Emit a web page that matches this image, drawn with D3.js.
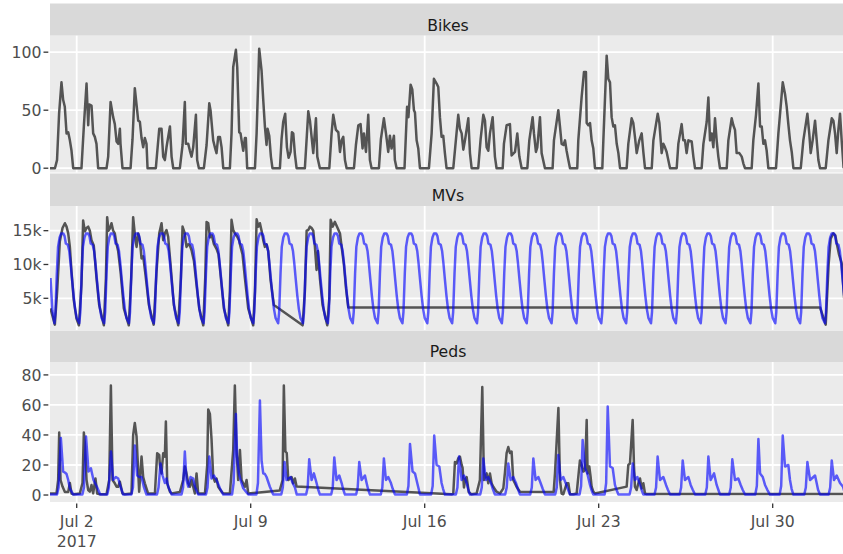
<!DOCTYPE html>
<html>
<head>
<meta charset="utf-8">
<script src="https://cdn.jsdelivr.net/npm/d3@7"></script>
<style>
  html, body { margin: 0; padding: 0; background: #ffffff; }
  svg { display: block; font-family: "DejaVu Sans", Verdana, sans-serif; }
</style>
</head>
<body>
<svg id="chart" width="843" height="554"></svg>
<script>
// ---------------------------------------------------------------
// Hourly counts at one intersection, July 2017.
// Each row: [day of July (32 = Aug 1), hour, value, hour, value, ...]
// Straight runs between rows are periods without sensor data.
// ---------------------------------------------------------------

const facetNames = ["Bikes", "MVs", "Peds"];
const dateTicks = ["2017-07-02", "2017-07-09", "2017-07-16", "2017-07-23", "2017-07-30"];
const bikeTicks = [0, 50, 100];
const mvTicks = [5, 10, 15];          // thousands of vehicles
const pedTicks = [0, 20, 40, 60, 80];

// Bicycles counted
const bikesCounted = [
  [1, -2,0, 3,0, 5,7, 7,47, 9.3,74, 10.9,59, 12.5,53, 14.2,30, 15.8,31, 17.4,24, 19,15, 20.6,0],
  [2, 4.6,0, 6.9,36, 9.5,73, 11.1,37, 12,55, 14.3,54, 15.9,30, 17.5,27, 19.1,21, 20.7,0],
  [3, 4.8,0, 6.4,10, 8.7,57, 11.2,44, 12.8,38, 14.5,23, 16.1,21, 17.7,34, 18.3,21, 20.2,0],
  [4, 4,0, 5.9,25, 8.1,69, 11.4,41, 13,40, 14.6,26, 16.2,18, 17.8,26, 19.4,21, 20.4,0],
  [5, 4.4,0, 7.7,34, 9.9,34, 11.5,10, 13.1,7, 14.7,18, 18,36, 19.6,10, 21.2,0],
  [6, 3.6,0, 6.2,20, 8.4,57, 9.4,21, 11.7,21, 13.3,15, 14.9,10, 16.5,18, 19.1,46, 20.3,7, 22,0],
  [7, 2.8,0, 5.4,20, 8,56, 9.2,50, 11.8,24, 13.4,18, 15,13, 16.6,27, 18.3,27, 19.9,18, 21.5,0],
  [8, 3.9,0, 5.5,30, 7.1,87, 9.7,102, 11,87, 12.9,31, 14.2,30, 15.2,24, 16.8,15, 18.4,26, 19.3,26, 20.6,0],
  [9, 4.1,0, 5.7,30, 8.2,103, 10.5,84, 12.1,59, 13.7,36, 15.3,20, 16.3,34, 17.9,28, 19.5,10, 21,0],
  [10, 4.2,0, 5.8,25, 7.4,40, 9.3,47, 11,18, 12.6,9, 14.5,14, 15.8,31, 17.1,30, 18.7,12, 20.3,0],
  [11, 4.3,0, 6,25, 7.6,49, 9.2,41, 12.4,13, 15,43, 16.3,10, 18.8,0],
  [12, 3.9,0, 6.1,30, 7.7,46, 10.3,33, 12.6,31, 14.2,14, 15.8,24, 17.4,27, 19,7, 20.6,0],
  [13, 3.7,0, 5.6,20, 7.9,37, 10.1,38, 12,17, 13.3,30, 15.3,14, 17.5,46, 19.1,7, 20.7,0],
  [14, 3.8,0, 5.7,25, 8.6,43, 10.6,30, 12.8,14, 14.4,28, 16,17, 18.3,28, 19.2,7, 20.9,0],
  [15, 4.5,0, 7,53, 8.3,44, 10.4,72, 12,68, 13.6,50, 14.6,48, 16.2,24, 17.8,17, 19.4,0],
  [16, 4.1,0, 6.7,30, 8.9,77, 11.5,73, 13.1,70, 14.7,44, 16.3,27, 17.9,28, 19.5,13, 21.1,0],
  [17, 3.6,0, 6.2,25, 8.4,46, 10,34, 11.7,30, 13.3,16, 14.9,24, 18.1,43, 19.7,13, 21.3,0],
  [18, 3.7,0, 6,25, 8.6,46, 10.2,41, 11.8,18, 13.4,15, 15,30, 17.6,44, 19.8,10, 21.4,0],
  [19, 3.3,0, 4.5,21, 7.1,37, 10.3,38, 11.9,11, 15.2,14, 17.4,30, 19.4,10, 21.6,0],
  [20, 3.1,0, 5,24, 8.2,44, 9.5,30, 11.4,14, 12.7,18, 15.3,44, 16.9,13, 20.1,0],
  [21, 3.5,0, 4.8,24, 9,50, 10.6,36, 12.2,21, 14,20, 15.5,24, 17,15, 18.7,7, 20.3,0],
  [22, 3.3,0, 4.3,24, 7.5,61, 9.8,83, 11.7,83, 12.4,39, 14,37, 15.6,39, 17.2,24, 18.8,17, 20.4,0],
  [23, 3.5,0, 4.5,24, 7.7,97, 9.3,77, 10.9,74, 12.5,44, 14.1,36, 15.7,37, 17.4,21, 19,13, 20.6,0],
  [24, 3,0, 4.6,21, 7.8,43, 9.4,39, 11,27, 12.7,13, 15.2,24, 17.5,30, 19.1,14, 20.7,0],
  [25, 3.2,0, 4.8,24, 9,47, 10.6,39, 12.8,13, 14.4,21, 16,18, 17.6,14, 19.2,7, 20.9,0],
  [26, 3.3,0, 4.9,21, 8.1,38, 9.7,24, 11.3,24, 12.9,13, 14.6,24, 17.8,23, 19.4,10, 21,0],
  [27, 3.4,0, 5.1,21, 8.3,40, 9.9,61, 11.5,24, 13.1,30, 14.7,18, 16.3,43, 17.9,24, 19.5,10, 21.1,0],
  [28, 3.6,0, 5.2,24, 8.4,43, 10,37, 11.6,33, 13.2,13, 15.8,13, 18.1,10, 19.7,4, 21.3,0],
  [29, 3.7,0, 5.3,24, 7.9,46, 10.2,73, 11.8,36, 13.4,36, 15,21, 16.6,24, 18.2,15, 19.8,0],
  [30, 3.2,0, 5.5,30, 9.7,74, 11.9,64, 13.5,53, 15.1,38, 16.7,24, 18.4,14, 20,0],
  [31, 3.1,0, 5.6,24, 9.5,47, 11.4,29, 12.7,13, 14.6,24, 16.9,41, 18.5,24, 20.1,7, 21.7,0],
  [32, 3.2,0, 5.8,24, 9,43, 10.6,41, 12.2,30, 13.8,13, 15.4,33, 17,47, 18.6,24, 20.5,0]
];

// Motor vehicles counted (thousands)
const mvsCounted = [
  [1, -1.3,3.5, 2.9,1.1, 5.2,6.2, 7.7,13.4, 10.3,15.4, 12.6,16.1, 14.2,15.6, 15.8,14.6, 17.4,12.6, 19,8.9, 21.2,4.7, 23.8,2.0],
  [2, 2.1,1.0, 4.6,7, 6.2,16.5, 7.9,14.9, 9.5,15.4, 11.1,15.6, 12.7,15.0, 14.3,13.6, 16.5,12.8, 19.1,8, 21.7,4],
  [3, 2.2,1.0, 4.2,8, 5.4,17.0, 6.7,15.0, 8,15.3, 9.6,16.1, 11.2,15.0, 12.8,14.6, 14.5,13, 16,12, 18.3,9, 21.5,3.5],
  [4, 2.3,1.0, 4.6,8, 6.5,17.0, 8.1,14.5, 9.8,12.6, 11.4,14.6, 13,13.6, 14.6,10.9, 16.2,11.2, 18.4,8.5, 21.7,4],
  [5, 2.3,1.1, 5.1,9, 7.7,14.6, 9.9,16.1, 11.5,13.6, 13.1,14.6, 14.7,15.1, 16.3,14.1, 18.6,10, 21.8,4],
  [6, 2,1.0, 4.6,8, 6.2,15.6, 8.4,14.6, 10,12.6, 11.7,13.0, 13.3,12.8, 14.9,12.1, 17.2,10.5, 19.7,7, 22.3,3.5],
  [7, 2.2,1.0, 4.1,8, 5.4,16.3, 7,16.1, 8.6,14, 10.5,14.3, 12.5,13, 15,12.3, 16.9,11.5, 18.9,8.5, 22.1,3.5],
  [8, 2.3,1.0, 3.9,6, 5.5,16.6, 7.1,15.1, 8.7,14.6, 11,14.1, 12.9,13.5, 14.2,12.6, 16.1,11.5, 18.4,8, 21.6,3.5],
  [9, 2.4,1.0, 4.1,6, 5.7,16.7, 7.3,15.6, 8.9,16.1, 10.5,15, 12.1,13.6, 13.7,12.6, 15.3,13, 16.9,12, 19.2,7.7, 22.4,4.0],
  [11, 2.1,1.0, 4.3,6, 6,15.0, 7.6,15.1, 9.2,15.6, 10.8,15.4, 12.4,15.0, 14,12.6, 15.6,9.2, 16.9,12, 18.8,8, 21.4,4],
  [12, 1.9,1.0, 3.9,5, 5.2,16.6, 7.1,15.6, 9.3,16.3, 11.6,15.5, 14.2,14.6, 15.8,12.6, 18,10, 20,6.5, 22.2,3.65],
  [31, 21.7,3.65],
  [32, 3.2,1.1, 6,10, 8,13.8, 10.5,14.6, 12.5,14.3, 14,13, 16,11.5, 18.6,10.2, 21,5]
];

// Motor vehicles expected by the model (thousands)
const mvsModelled = [
  [1, -1.3,8.0, 0.5,3.2, 2.5,1.3, 3.5,3, 4.8,8.7, 6,12.6, 7.5,14, 9,14.6, 11,14.6, 12.3,14.2, 13.5,13.1, 15.5,12.9, 16.8,12, 18,10.3, 19.5,7.8, 21,5.4, 22.5,3.4],
  [2, 0,2.1, 2.5,1.3, 3.5,3, 4.8,8.7, 6,12.6, 7.5,14, 9,14.6, 11,14.6, 12.3,14.2, 13.5,13.1, 15.5,12.9, 16.8,12, 18,10.3, 19.5,7.8, 21,5.4, 22.5,3.4],
  [3, 0,2.1, 2.5,1.3, 3.5,3, 4.8,8.7, 6,12.6, 7.5,14, 9,14.6, 11,14.6, 12.3,14.2, 13.5,13.1, 15.5,12.9, 16.8,12, 18,10.3, 19.5,7.8, 21,5.4, 22.5,3.4],
  [4, 0,2.1, 2.5,1.3, 3.5,3, 4.8,8.7, 6,12.6, 7.5,14, 9,14.6, 11,14.6, 12.3,14.2, 13.5,13.1, 15.5,12.9, 16.8,12, 18,10.3, 19.5,7.8, 21,5.4, 22.5,3.4],
  [5, 0,2.1, 2.5,1.3, 3.5,3, 4.8,8.7, 6,12.6, 7.5,14, 9,14.6, 11,14.6, 12.3,14.2, 13.5,13.1, 15.5,12.9, 16.8,12, 18,10.3, 19.5,7.8, 21,5.4, 22.5,3.4],
  [6, 0,2.1, 2.5,1.3, 3.5,3, 4.8,8.7, 6,12.6, 7.5,14, 9,14.6, 11,14.6, 12.3,14.2, 13.5,13.1, 15.5,12.9, 16.8,12, 18,10.3, 19.5,7.8, 21,5.4, 22.5,3.4],
  [7, 0,2.1, 2.5,1.3, 3.5,3, 4.8,8.7, 6,12.6, 7.5,14, 9,14.6, 11,14.6, 12.3,14.2, 13.5,13.1, 15.5,12.9, 16.8,12, 18,10.3, 19.5,7.8, 21,5.4, 22.5,3.4],
  [8, 0,2.1, 2.5,1.3, 3.5,3, 4.8,8.7, 6,12.6, 7.5,14, 9,14.6, 11,14.6, 12.3,14.2, 13.5,13.1, 15.5,12.9, 16.8,12, 18,10.3, 19.5,7.8, 21,5.4, 22.5,3.4],
  [9, 0,2.1, 2.5,1.3, 3.5,3, 4.8,8.7, 6,12.6, 7.5,14, 9,14.6, 11,14.6, 12.3,14.2, 13.5,13.1, 15.5,12.9, 16.8,12, 18,10.3, 19.5,7.8, 21,5.4, 22.5,3.4],
  [10, 0,2.1, 2.5,1.3, 3.5,3, 4.8,8.7, 6,12.6, 7.5,14, 9,14.6, 11,14.6, 12.3,14.2, 13.5,13.1, 15.5,12.9, 16.8,12, 18,10.3, 19.5,7.8, 21,5.4, 22.5,3.4],
  [11, 0,2.1, 2.5,1.3, 3.5,3, 4.8,8.7, 6,12.6, 7.5,14, 9,14.6, 11,14.6, 12.3,14.2, 13.5,13.1, 15.5,12.9, 16.8,12, 18,10.3, 19.5,7.8, 21,5.4, 22.5,3.4],
  [12, 0,2.1, 2.5,1.3, 3.5,3, 4.8,8.7, 6,12.6, 7.5,14, 9,14.6, 11,14.6, 12.3,14.2, 13.5,13.1, 15.5,12.9, 16.8,12, 18,10.3, 19.5,7.8, 21,5.4, 22.5,3.4],
  [13, 0,2.1, 2.5,1.3, 3.5,3, 4.8,8.7, 6,12.6, 7.5,14, 9,14.6, 11,14.6, 12.3,14.2, 13.5,13.1, 15.5,12.9, 16.8,12, 18,10.3, 19.5,7.8, 21,5.4, 22.5,3.4],
  [14, 0,2.1, 2.5,1.3, 3.5,3, 4.8,8.7, 6,12.6, 7.5,14, 9,14.6, 11,14.6, 12.3,14.2, 13.5,13.1, 15.5,12.9, 16.8,12, 18,10.3, 19.5,7.8, 21,5.4, 22.5,3.4],
  [15, 0,2.1, 2.5,1.3, 3.5,3, 4.8,8.7, 6,12.6, 7.5,14, 9,14.6, 11,14.6, 12.3,14.2, 13.5,13.1, 15.5,12.9, 16.8,12, 18,10.3, 19.5,7.8, 21,5.4, 22.5,3.4],
  [16, 0,2.1, 2.5,1.3, 3.5,3, 4.8,8.7, 6,12.6, 7.5,14, 9,14.6, 11,14.6, 12.3,14.2, 13.5,13.1, 15.5,12.9, 16.8,12, 18,10.3, 19.5,7.8, 21,5.4, 22.5,3.4],
  [17, 0,2.1, 2.5,1.3, 3.5,3, 4.8,8.7, 6,12.6, 7.5,14, 9,14.6, 11,14.6, 12.3,14.2, 13.5,13.1, 15.5,12.9, 16.8,12, 18,10.3, 19.5,7.8, 21,5.4, 22.5,3.4],
  [18, 0,2.1, 2.5,1.3, 3.5,3, 4.8,8.7, 6,12.6, 7.5,14, 9,14.6, 11,14.6, 12.3,14.2, 13.5,13.1, 15.5,12.9, 16.8,12, 18,10.3, 19.5,7.8, 21,5.4, 22.5,3.4],
  [19, 0,2.1, 2.5,1.3, 3.5,3, 4.8,8.7, 6,12.6, 7.5,14, 9,14.6, 11,14.6, 12.3,14.2, 13.5,13.1, 15.5,12.9, 16.8,12, 18,10.3, 19.5,7.8, 21,5.4, 22.5,3.4],
  [20, 0,2.1, 2.5,1.3, 3.5,3, 4.8,8.7, 6,12.6, 7.5,14, 9,14.6, 11,14.6, 12.3,14.2, 13.5,13.1, 15.5,12.9, 16.8,12, 18,10.3, 19.5,7.8, 21,5.4, 22.5,3.4],
  [21, 0,2.1, 2.5,1.3, 3.5,3, 4.8,8.7, 6,12.6, 7.5,14, 9,14.6, 11,14.6, 12.3,14.2, 13.5,13.1, 15.5,12.9, 16.8,12, 18,10.3, 19.5,7.8, 21,5.4, 22.5,3.4],
  [22, 0,2.1, 2.5,1.3, 3.5,3, 4.8,8.7, 6,12.6, 7.5,14, 9,14.6, 11,14.6, 12.3,14.2, 13.5,13.1, 15.5,12.9, 16.8,12, 18,10.3, 19.5,7.8, 21,5.4, 22.5,3.4],
  [23, 0,2.1, 2.5,1.3, 3.5,3, 4.8,8.7, 6,12.6, 7.5,14, 9,14.6, 11,14.6, 12.3,14.2, 13.5,13.1, 15.5,12.9, 16.8,12, 18,10.3, 19.5,7.8, 21,5.4, 22.5,3.4],
  [24, 0,2.1, 2.5,1.3, 3.5,3, 4.8,8.7, 6,12.6, 7.5,14, 9,14.6, 11,14.6, 12.3,14.2, 13.5,13.1, 15.5,12.9, 16.8,12, 18,10.3, 19.5,7.8, 21,5.4, 22.5,3.4],
  [25, 0,2.1, 2.5,1.3, 3.5,3, 4.8,8.7, 6,12.6, 7.5,14, 9,14.6, 11,14.6, 12.3,14.2, 13.5,13.1, 15.5,12.9, 16.8,12, 18,10.3, 19.5,7.8, 21,5.4, 22.5,3.4],
  [26, 0,2.1, 2.5,1.3, 3.5,3, 4.8,8.7, 6,12.6, 7.5,14, 9,14.6, 11,14.6, 12.3,14.2, 13.5,13.1, 15.5,12.9, 16.8,12, 18,10.3, 19.5,7.8, 21,5.4, 22.5,3.4],
  [27, 0,2.1, 2.5,1.3, 3.5,3, 4.8,8.7, 6,12.6, 7.5,14, 9,14.6, 11,14.6, 12.3,14.2, 13.5,13.1, 15.5,12.9, 16.8,12, 18,10.3, 19.5,7.8, 21,5.4, 22.5,3.4],
  [28, 0,2.1, 2.5,1.3, 3.5,3, 4.8,8.7, 6,12.6, 7.5,14, 9,14.6, 11,14.6, 12.3,14.2, 13.5,13.1, 15.5,12.9, 16.8,12, 18,10.3, 19.5,7.8, 21,5.4, 22.5,3.4],
  [29, 0,2.1, 2.5,1.3, 3.5,3, 4.8,8.7, 6,12.6, 7.5,14, 9,14.6, 11,14.6, 12.3,14.2, 13.5,13.1, 15.5,12.9, 16.8,12, 18,10.3, 19.5,7.8, 21,5.4, 22.5,3.4],
  [30, 0,2.1, 2.5,1.3, 3.5,3, 4.8,8.7, 6,12.6, 7.5,14, 9,14.6, 11,14.6, 12.3,14.2, 13.5,13.1, 15.5,12.9, 16.8,12, 18,10.3, 19.5,7.8, 21,5.4, 22.5,3.4],
  [31, 0,2.1, 2.5,1.3, 3.5,3, 4.8,8.7, 6,12.6, 7.5,14, 9,14.6, 11,14.6, 12.3,14.2, 13.5,13.1, 15.5,12.9, 16.8,12, 18,10.3, 19.5,7.8, 21,5.4, 22.5,3.4],
  [32, 0,2.1, 2.5,1.3, 3.5,3, 4.8,8.7, 6,12.6, 7.5,14, 9,14.6, 11,14.6, 12.3,14.2, 13.5,13.1, 15.5,12.9, 16.8,12, 18,10.3, 19.5,7.8, 21,5.4, 22.5,3.4],
  [33, 0,2.1, 2.5,1.3]
];

// Pedestrians counted
const pedsCounted = [
  [1, -2,1, 4.5,1, 6.1,10, 7.1,41.6, 8.4,10, 10.3,5.6, 12.6,2, 15.8,2, 17.4,8, 19,1, 21.2,0.5],
  [2, 3,1, 5.6,8, 6.9,41.6, 7.9,34, 9.5,10, 11.1,3.3, 12.7,2.2, 14.3,6.7, 15.9,1.1, 18.1,11, 19.8,1, 22.3,0.5],
  [3, 4.8,0.5, 7.4,10, 9,73, 10.6,10, 12.8,7.8, 14.5,5.5, 16,5.5, 17.7,8.9, 20.2,1, 22.5,0.5],
  [4, 4.9,1, 6.5,40, 8.1,48, 9.8,39, 10.7,25.6, 12.3,2.2, 14.6,25.6, 16.2,12, 17.8,7.8, 21,1],
  [5, 3.5,1, 5.7,27.8, 7.7,26.7, 8.3,20, 9.9,14.4, 11.5,27.8, 13.1,25.6, 14.1,49, 15.4,7.8, 18,2.2, 19.6,1],
  [6, 3.6,2, 6.8,10, 8.4,19, 10,14.4, 11.7,7.8, 13.3,5.5, 14.9,10, 16.5,5.5, 18.1,1, 19.7,14.4, 21.3,1],
  [7, 3.8,1, 6,20, 7,57, 8.6,54, 10.2,37, 11.8,12, 13.4,8.9, 15,11, 16.6,5.5, 19.9,2.2, 21.5,1],
  [8, 3.9,1, 7.1,30, 8.7,73, 10.3,30, 11.9,10, 13.6,30, 15.2,10, 18.4,5.5, 20,10, 21.6,1],
  [10, 4,3, 6.8,10, 8,73, 9.5,29, 10.8,28, 12.3,10, 15.5,12, 17.1,7.8, 18.7,11, 20.3,5.6],
  [17, 2,0.5, 3.6,1, 5.2,22, 6.8,21, 8.4,24.4, 10,25.6, 11.7,20, 12.6,18, 13.9,5, 15,10, 16.5,12, 18.5,2, 21,0.5],
  [18, 2.1,1, 5.3,10, 7.6,72, 9.2,10, 11.8,14.4, 13.4,7.8, 15,14.4, 16.6,7.8, 18.2,5.5, 21.4,2.2],
  [19, 0.7,1, 3.9,4.4, 5.5,15, 7.1,28, 8.7,32, 10.3,28, 11.9,29, 13.5,10, 15.1,7.8, 16.7,5.5, 20,2.2],
  [21, 4.5,2, 5.8,14.4, 9.1,58, 10.6,10, 12.2,1, 13.8,0.5, 17.1,7.8, 18.7,7.8, 20.3,0.5, 23.5,0.5],
  [22, 2.7,1, 5.9,23, 7.5,20, 9.2,15.6, 10.8,16.7, 12.4,50, 13.3,14.4, 14.9,19, 16.2,12, 17.2,5.5, 18.8,2.2, 20.4,1],
  [24, 3,5.6, 4.6,20, 6.2,21, 8.8,50, 10.1,19, 11,5.5, 12.6,3.3, 14.3,7.8, 15.9,11, 17.5,4.4, 19.1,7.8, 20.7,1, 22.3,0.7],
  [33, 2,0.7]
];

// Pedestrians expected by the model
const pedsModelled = [
  [1, -2,0.3, 5,0.3, 6.5,5, 8.7,38, 10.9,15.6, 12.6,15, 14.2,14, 15.8,10, 17.4,4.5, 20.6,0.3],
  [2, 5.5,0.3, 7,5, 9,39, 11.4,15.6, 13.7,17.8, 16.2,10, 19.5,5.5, 22.7,0.3],
  [3, 5.5,0.3, 7,5, 9.1,29, 11.2,10, 13.8,12, 16.1,11, 18.3,5.5, 20.9,0.3],
  [4, 4.8,0.3, 6.3,5, 8.1,33, 10.4,13, 12.4,12, 14.6,12, 16.8,5.5, 19.4,0.3],
  [5, 5.5,0.3, 7,5, 8.9,21, 10.9,13, 13.1,8, 14.7,11, 16.4,5.5, 19.6,0.3],
  [6, 5.2,0.3, 6.7,5, 8.4,29, 10,10, 11.7,5.5, 13.9,12, 16.5,11, 18.1,5.5, 21.3,0.3],
  [7, 4.8,0.3, 6.3,5, 8,25.6, 10.2,11, 12.5,13, 15,10, 18.3,4.5, 21.5,0.3],
  [8, 6,0.3, 7.5,8, 9.7,54, 10.9,25, 12.6,14.4, 14.2,10, 16.8,4.5, 21.6,0.3],
  [9, 5.5,0.3, 7,8, 8.9,63, 10.5,23, 12.1,14.4, 13.7,14, 15.3,12, 18.5,5.5, 21.7,0.3],
  [10, 5.5,0.3, 7,5, 8.7,22, 10.6,10, 12.3,11, 14.5,12, 16.5,8, 18.7,5, 20.5,0.3],
  [11, 5.5,0.3, 7,5, 8.5,23.8, 10.8,10, 13,14.4, 15.6,8, 17,4, 18.8,0.3],
  [12, 5.7,0.3, 7.2,5, 8.7,25, 10.9,10, 13.5,13, 15.8,8, 17.2,4, 19,0.3],
  [13, 5.8,0.3, 7.3,5, 8.8,22, 11.1,10, 14.3,13, 15.9,8, 17.3,4, 19.1,0.3],
  [14, 5.6,0.3, 7.1,5, 8.6,24.4, 10.6,10, 12.8,12, 15.4,8, 17.2,4, 19.3,0.3],
  [15, 6.8,0.3, 8.3,6, 9.8,34, 12.3,15.6, 14.6,14.4, 16.8,8, 18.2,4, 19.4,0.3],
  [16, 6.2,0.3, 7.7,6, 9.2,39.6, 11.5,20, 14.1,19, 16.3,8, 17.8,4, 19.5,0.3],
  [17, 6.1,0.3, 7.6,5, 9.1,25.6, 11.7,10, 13.9,13, 16.5,8, 18,4, 19.7,0.3],
  [18, 5.6,0.3, 7.1,5, 8.6,24.4, 11.1,10, 13.4,12, 16,8, 17.8,4, 19.8,0.3],
  [19, 5.7,0.3, 7.2,5, 8.7,21, 11,10, 13.5,12, 16.1,8, 18,4, 20,0.3],
  [20, 5.9,0.3, 7.4,5, 8.9,24.4, 11.1,10, 13.7,12, 15.9,8, 18,4, 20.1,0.3],
  [21, 6,0.3, 7.5,5, 9,26.7, 11.3,10, 13.8,12, 16.1,8, 18.2,4, 20.3,0.3],
  [22, 5.5,0.3, 7,6, 8.5,36.7, 10.8,17.8, 13,14.4, 15.6,6.7, 17,3.5, 18.8,0.3],
  [23, 5.7,0.3, 7.2,8, 8.7,59, 10.9,19, 13.5,18, 15.7,6.7, 17.2,3.5, 19,0.3],
  [24, 5.8,0.3, 7.3,5, 8.8,21, 11,10, 13.3,12, 15.9,6.7, 17.4,3.5, 19.1,0.3],
  [25, 5.9,0.3, 7.4,5, 8.9,25.6, 11.2,10, 14.4,12, 17,6.7, 18.8,3.5, 20.9,0.3],
  [26, 6.1,0.3, 7.6,5, 9.1,23, 11.3,10, 14.6,12, 16.8,6.7, 18.8,3.5, 21,0.3],
  [27, 6.9,0.3, 8.4,5, 9.9,25.6, 12.1,10, 15.4,14.4, 17.9,6.7, 19.5,3.5, 21.2,0.3],
  [28, 6,0.3, 7.5,5, 9,23.8, 11.6,10, 14.8,11, 17.1,6.7, 19,3.5, 21.3,0.3],
  [29, 7.2,0.3, 8.7,6, 10.2,37.3, 11.8,14.4, 14.4,12, 16.6,6.7, 18.8,3.5, 21.4,0.3],
  [30, 6.7,0.3, 8.2,6, 9.7,39.6, 11.9,19, 15.1,20, 16.7,10, 18.3,4, 20,0.3],
  [31, 6.5,0.3, 8,5, 9.5,22, 12.1,10, 16.9,13, 18.5,7.8, 19.8,3.5, 21.7,0.3],
  [32, 6,0.3, 7.5,5, 9,23, 11.2,10, 13.8,13, 17,8, 19.9,5.5, 22,0.3],
  [33, 6,0.3]
];

// ---------------------------------------------------------------
// Drawing
// ---------------------------------------------------------------
const svg = d3.select("#chart");
const plotLeft = 50, plotRight = 846;

const COUNTED = "#545454";
const MODEL = "#0000ff";
const LINE_W = 2.5;

// Turn [day, h, v, h, v, ...] rows into time-stamped points
function toPoints(rows) {
  const pts = [];
  rows.forEach(r => {
    const day = r[0];
    for (let i = 1; i < r.length; i += 2) {
      pts.push({ t: new Date(2017, 6, day, 0, 0, 0, Math.round(r[i] * 3600000)), v: r[i + 1] });
    }
  });
  return pts;
}

const x = d3.scaleTime()
  .domain([new Date(2017, 5, 30, 22, 13), new Date(2017, 7, 1, 22, 47)])
  .range([plotLeft, plotRight]);

const tickDates = dateTicks.map(d3.timeParse("%Y-%m-%d"));
const fmtDay = d3.timeFormat("%b %-d");

const panels = [
  { name: facetNames[0], strip: [3.5, 35.7], plot: [35.7, 172.5], domain: [-3.7, 114.2],
    ticks: bikeTicks, fmt: d => String(d),
    series: [{ rows: bikesCounted, color: COUNTED, opacity: 1 }] },
  { name: facetNames[1], strip: [173.5, 206], plot: [206, 330], domain: [0.31, 18.65],
    ticks: mvTicks, fmt: d => d + "k",
    series: [{ rows: mvsCounted, color: COUNTED, opacity: 1 },
             { rows: mvsModelled, color: MODEL, opacity: 0.62 }] },
  { name: facetNames[2], strip: [330.5, 362], plot: [362, 502], domain: [-4.65, 88.6],
    ticks: pedTicks, fmt: d => String(d),
    series: [{ rows: pedsCounted, color: COUNTED, opacity: 1 },
             { rows: pedsModelled, color: MODEL, opacity: 0.62 }] }
];

const defs = svg.append("defs");

panels.forEach((p, i) => {
  const y = d3.scaleLinear().domain(p.domain).range([p.plot[1], p.plot[0]]);
  const g = svg.append("g").attr("class", "panel");

  // strip
  g.append("rect")
    .attr("x", plotLeft).attr("y", p.strip[0])
    .attr("width", plotRight - plotLeft).attr("height", p.strip[1] - p.strip[0])
    .attr("fill", "#d9d9d9");
  g.append("text")
    .attr("x", (plotLeft + plotRight) / 2).attr("y", p.strip[1] - 5)
    .attr("text-anchor", "middle")
    .attr("font-size", 15.7).attr("fill", "#1a1a1a")
    .text(p.name);

  // panel background
  g.append("rect")
    .attr("x", plotLeft).attr("y", p.plot[0])
    .attr("width", plotRight - plotLeft).attr("height", p.plot[1] - p.plot[0])
    .attr("fill", "#ebebeb");

  // grid
  g.selectAll("line.hgrid").data(p.ticks).join("line")
    .attr("class", "hgrid")
    .attr("x1", plotLeft).attr("x2", plotRight)
    .attr("y1", d => y(d)).attr("y2", d => y(d))
    .attr("stroke", "#ffffff").attr("stroke-width", 1.8);
  g.selectAll("line.vgrid").data(tickDates).join("line")
    .attr("class", "vgrid")
    .attr("x1", d => x(d)).attr("x2", d => x(d))
    .attr("y1", p.plot[0]).attr("y2", p.plot[1])
    .attr("stroke", "#ffffff").attr("stroke-width", 1.8);

  // series
  const clipId = "clip" + i;
  defs.append("clipPath").attr("id", clipId).append("rect")
    .attr("x", plotLeft).attr("y", p.plot[0])
    .attr("width", plotRight - plotLeft).attr("height", p.plot[1] - p.plot[0]);

  const line = d3.line().x(d => x(d.t)).y(d => y(d.v));
  const lg = g.append("g").attr("clip-path", `url(#${clipId})`);
  p.series.forEach(s => {
    lg.append("path")
      .datum(toPoints(s.rows))
      .attr("d", line)
      .attr("fill", "none")
      .attr("stroke", s.color)
      .attr("stroke-opacity", s.opacity)
      .attr("stroke-width", LINE_W)
      .attr("stroke-linejoin", "round");
  });

  // y axis ticks and labels
  g.selectAll("line.ytick").data(p.ticks).join("line")
    .attr("class", "ytick")
    .attr("x1", 43.5).attr("x2", 48.3)
    .attr("y1", d => y(d)).attr("y2", d => y(d))
    .attr("stroke", "#333333").attr("stroke-width", 1.3);
  g.selectAll("text.ylab").data(p.ticks).join("text")
    .attr("class", "ylab")
    .attr("x", 41.5).attr("y", d => y(d))
    .attr("dy", "0.36em")
    .attr("text-anchor", "end")
    .attr("font-size", 15.7).attr("fill", "#4d4d4d")
    .text(p.fmt);

  // x axis under the last panel
  if (i === panels.length - 1) {
    g.selectAll("line.xtick").data(tickDates).join("line")
      .attr("class", "xtick")
      .attr("x1", d => x(d)).attr("x2", d => x(d))
      .attr("y1", p.plot[1] + 1.5).attr("y2", p.plot[1] + 6)
      .attr("stroke", "#333333").attr("stroke-width", 1.3);
    const lab = g.selectAll("text.xlab").data(tickDates).join("text")
      .attr("class", "xlab")
      .attr("x", d => x(d)).attr("y", 527)
      .attr("text-anchor", "middle")
      .attr("font-size", 15.7).attr("fill", "#4d4d4d");
    lab.append("tspan").text(d => fmtDay(d));
    lab.filter((d, j) => j === 0).append("tspan")
      .attr("x", d => x(d)).attr("dy", 20)
      .text(d => d.getFullYear());
  }
});
</script>
</body>
</html>
